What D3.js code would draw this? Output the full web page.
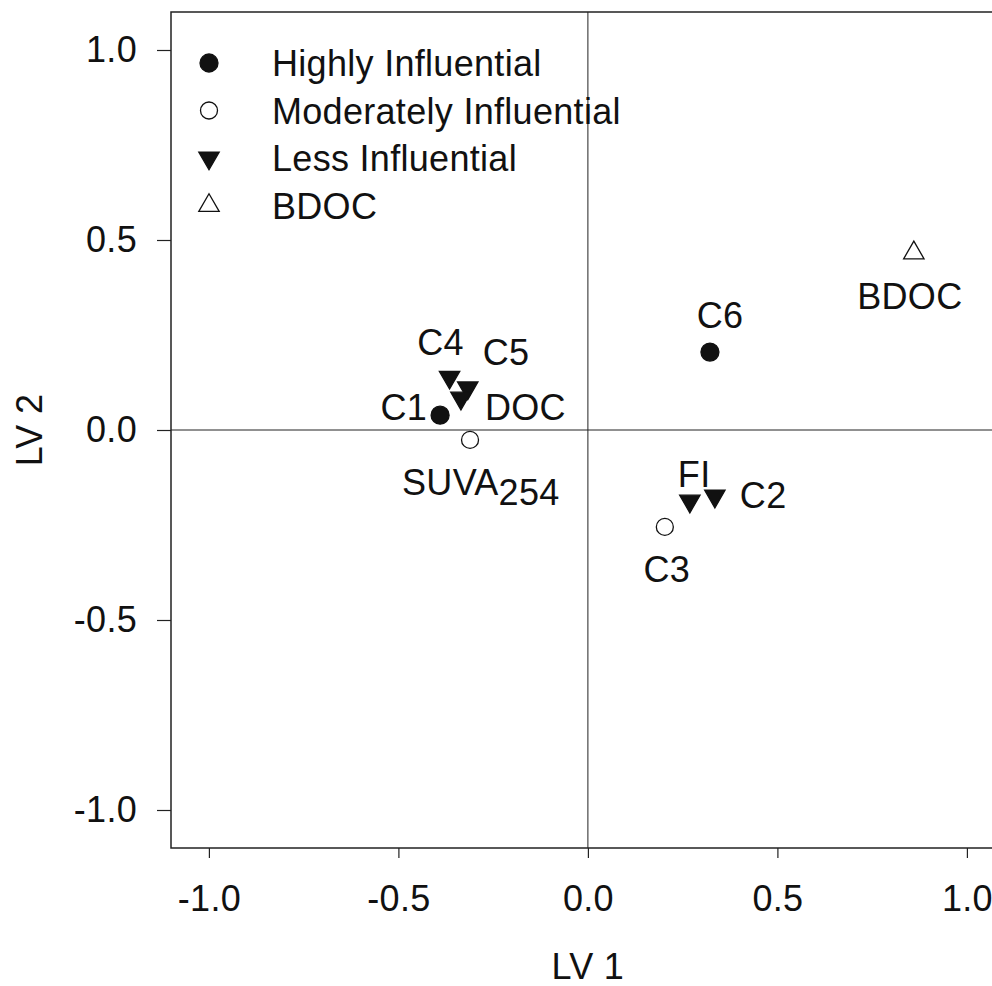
<html>
<head>
<meta charset="utf-8">
<style>
  body { margin: 0; background: #fff; }
  text { font-family: "Liberation Sans", Arial, sans-serif; fill: #111; }
</style>
</head>
<body>
<svg id="chart" width="992" height="986"></svg>
<script src="https://cdn.jsdelivr.net/npm/d3@7"></script>
<script>
// variables and their loadings
const names  = ["C1", "C4", "C5", "DOC", "SUVA", "C6", "FI", "C2", "C3", "BDOC"]
const lv1    = [-0.39, -0.365, -0.317, -0.335, -0.311, 0.322, 0.269, 0.335, 0.203, 0.860]
const lv2    = [0.039, 0.139, 0.111, 0.084, -0.026, 0.205, -0.187, -0.174, -0.255, 0.466]
const groups = ["high", "less", "less", "less", "moderate", "high", "less", "less", "moderate", "bdoc"]

const legendKeys   = ["high", "moderate", "less", "bdoc"]
const legendLabels = ["Highly Influential", "Moderately Influential", "Less Influential", "BDOC"]
const ticks = [-1.0, -0.5, 0.0, 0.5, 1.0]

// label placement (pixel offsets from the point)
const labelPos = {
  C1:   { dx: -13, dy: 5,  anchor: "end" },
  C4:   { dx: -9,  dy: -22, anchor: "middle" },
  C5:   { dx: 15,  dy: -23, anchor: "start" },
  DOC:  { dx: 24,  dy: 22, anchor: "start" },
  SUVA: { dx: -68, dy: 55, anchor: "start" },
  C6:   { dx: 10,  dy: -24, anchor: "middle" },
  FI:   { dx: -12, dy: -14, anchor: "start" },
  C2:   { dx: 25,  dy: 12, anchor: "start" },
  C3:   { dx: 2,   dy: 55, anchor: "middle" },
  BDOC: { dx: -4,  dy: 56, anchor: "middle" }
}

let svg = d3.select("#chart")
let x = d3.scaleLinear().domain([-1.1, 1.1]).range([171, 171 + 2.2 * 379])
let y = d3.scaleLinear().domain([-1.1, 1.1]).range([848, 12])

const fontSize = 36
const spacing = "0.3px"
const fmt = d => d3.format(".1f")(d).replace("\u2212", "-")

// reference lines
svg.append("line").attr("x1", x(0)).attr("x2", x(0)).attr("y1", y(1.1)).attr("y2", y(-1.1))
  .attr("stroke", "#222").attr("stroke-width", 1)
svg.append("line").attr("x1", x(-1.1)).attr("x2", x(1.1)).attr("y1", y(0)).attr("y2", y(0))
  .attr("stroke", "#222").attr("stroke-width", 1)

// frame
svg.append("rect").attr("x", x(-1.1)).attr("y", y(1.1))
  .attr("width", x(1.1) - x(-1.1)).attr("height", y(-1.1) - y(1.1))
  .attr("fill", "none").attr("stroke", "#222").attr("stroke-width", 1.5)

// axes
let xAxis = svg.append("g").attr("transform", "translate(0," + y(-1.1) + ")")
  .call(d3.axisBottom(x).tickValues(ticks).tickSize(10).tickPadding(40).tickFormat(fmt))
let yAxis = svg.append("g").attr("transform", "translate(" + x(-1.1) + ",0)")
  .call(d3.axisLeft(y).tickValues(ticks).tickSize(14).tickPadding(20).tickFormat(fmt))
for (let ax of [xAxis, yAxis]) {
  ax.select(".domain").remove()
  ax.selectAll(".tick line").attr("stroke", "#222").attr("stroke-width", 1.2)
  ax.selectAll(".tick text").attr("font-size", fontSize).attr("fill", "#111")
    .style("font-family", "'Liberation Sans', Arial, sans-serif").style("letter-spacing", spacing)
}
xAxis.selectAll(".tick text").attr("dy", "0.35em")

// axis titles
svg.append("text").attr("x", x(0)).attr("y", 979).attr("text-anchor", "middle")
  .attr("font-size", fontSize).style("letter-spacing", spacing).text("LV 1")
svg.append("text").attr("transform", "translate(42," + y(0) + ") rotate(-90)")
  .attr("text-anchor", "middle").attr("font-size", fontSize).style("letter-spacing", spacing).text("LV 2")

// symbols
const symbolStyle = {
  high:     { type: d3.symbolCircle, size: Math.PI * 9 * 9, fill: "#111", flip: false },
  moderate: { type: d3.symbolCircle, size: Math.PI * 8.5 * 8.5, fill: "#fff", flip: false },
  less:     { type: d3.symbolTriangle, size: 180, fill: "#111", flip: true },
  bdoc:     { type: d3.symbolTriangle, size: 180, fill: "#fff", flip: false }
}
function drawSymbol(g, key, px, py) {
  let s = symbolStyle[key]
  g.append("path")
    .attr("d", d3.symbol().type(s.type).size(s.size))
    .attr("transform", "translate(" + px + "," + py + ")" + (s.flip ? " rotate(180)" : ""))
    .attr("fill", s.fill).attr("stroke", "#111").attr("stroke-width", 1.3)
}

// legend
let legend = svg.append("g")
legendKeys.forEach((k, i) => {
  let cy = 63 + i * 47.5
  drawSymbol(legend, k, 209, cy)
  legend.append("text").attr("x", 272).attr("y", cy + 13)
    .attr("font-size", fontSize).style("letter-spacing", spacing).text(legendLabels[i])
})

// points and labels
let pts = svg.append("g")
names.forEach((n, i) => {
  let px = x(lv1[i]), py = y(lv2[i])
  drawSymbol(pts, groups[i], px, py)
  let lp = labelPos[n]
  let t = pts.append("text").attr("x", px + lp.dx).attr("y", py + lp.dy)
    .attr("text-anchor", lp.anchor).attr("font-size", fontSize).style("letter-spacing", spacing)
  if (n === "SUVA") {
    t.append("tspan").text("SUVA")
    t.append("tspan").attr("dy", 10).text("254")
  } else {
    t.text(n)
  }
})
</script>
</body>
</html>
